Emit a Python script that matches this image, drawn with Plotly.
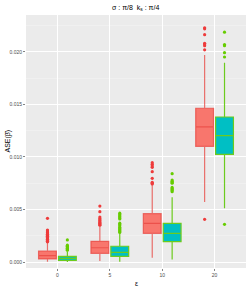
import plotly.graph_objects as go

categories = ["0", "5", "10", "20"]
groups = ["a", "b"]

# group a (red)
a_q1 = [0.00029, 0.00083, 0.00273, 0.01102]
a_med = [0.00060, 0.00136, 0.00368, 0.01286]
a_q3 = [0.00105, 0.00197, 0.00460, 0.01464]
a_lo = [0.00003, 0.00010, 0.00041, 0.00571]
a_hi = [0.00185, 0.00340, 0.00733, 0.01971]
a_out = [
    [0.00192, 0.00198, 0.00204, 0.00210, 0.00216, 0.00222, 0.00228, 0.00234, 0.00240,
     0.00246, 0.00252, 0.00258, 0.00264, 0.00270, 0.00278, 0.00286, 0.00296, 0.00305, 0.00416],
    [0.00350, 0.00358, 0.00366, 0.00374, 0.00382, 0.00392, 0.00402, 0.00414, 0.00428,
     0.00479, 0.00533],
    [0.00743, 0.00750, 0.00759, 0.00797, 0.00860, 0.00902, 0.00915, 0.00930, 0.00946],
    [0.00406, 0.02020, 0.02060, 0.02075, 0.02083, 0.02165, 0.02220, 0.02230],
]

# group b (teal)
b_q1 = [0.00016, 0.00054, 0.00194, 0.01025]
b_med = [0.00035, 0.00092, 0.00273, 0.01203]
b_q3 = [0.00054, 0.00150, 0.00368, 0.01381]
b_lo = [0.00000, 0.00002, 0.00025, 0.00511]
b_hi = [0.00100, 0.00270, 0.00616, 0.01898]
b_out = [
    [0.00112, 0.00118, 0.00124, 0.00130, 0.00136, 0.00142, 0.00150, 0.00160, 0.00210],
    [0.00282, 0.00290, 0.00300, 0.00310, 0.00320, 0.00332, 0.00345, 0.00358, 0.00370,
     0.00410, 0.00420, 0.00430, 0.00440, 0.00452, 0.00465],
    [0.00670, 0.00680, 0.00690, 0.00700, 0.00710, 0.00750, 0.00760, 0.00770, 0.00780, 0.00841],
    [0.00359, 0.01952, 0.01993, 0.02060, 0.02070, 0.02188],
]

tick_vals = [0.000, 0.005, 0.010, 0.015, 0.020]
tick_text = ["0.000", "0.005", "0.010", "0.015", "0.020"]

RED_FILL = "rgba(248,118,109,1)"
RED_LINE = "rgba(232,70,64,0.75)"
RED_PT = "#EE3B3B"
TEAL_FILL = "#00BFC4"
GREEN_LINE = "#6CCB1E"
GREEN_PT = "#66CC00"

offset = 0.19
bw = 0.34
pos = list(range(len(categories)))

W, H = 249, 291
ML, MR, MT, MB = 26, 3, 15, 23
plot_w = W - ML - MR
plot_h = H - MT - MB

fig = go.Figure()
specs = [
    (-offset, a_q1, a_med, a_q3, a_lo, a_hi, a_out, RED_FILL, RED_LINE, RED_PT),
    (offset, b_q1, b_med, b_q3, b_lo, b_hi, b_out, TEAL_FILL, GREEN_LINE, GREEN_PT),
]
for off, q1, med, q3, lo, hi, out, fill, line, pt in specs:
    xs = [p + off for p in pos]
    fig.add_trace(go.Box(
        x=xs, q1=q1, median=med, q3=q3, lowerfence=lo, upperfence=hi,
        width=bw, fillcolor=fill, line=dict(color=line, width=1.2),
        whiskerwidth=0, boxpoints=False, showlegend=False, hoverinfo="skip",
    ))
    ox, oy = [], []
    for p, vals in zip(pos, out):
        ox += [p + off] * len(vals)
        oy += vals
    fig.add_trace(go.Scatter(
        x=ox, y=oy, mode="markers",
        marker=dict(color=pt, size=3.2, line=dict(width=0)),
        showlegend=False, hoverinfo="skip",
    ))

fig.update_layout(
    width=W, height=H,
    margin=dict(l=ML, r=MR, t=MT, b=MB, autoexpand=False),
    paper_bgcolor="white", plot_bgcolor="#EBEBEB",
    font=dict(family="Liberation Sans, Arial, sans-serif", color="#4D4D4D", size=5),
    title=dict(text="σ : π/8  k<sub>s</sub> : π/4", x=0.545, xanchor="center",
               y=0.975, yanchor="middle", font=dict(size=7, color="black")),
    annotations=[
        dict(text="ε", x=0.5, y=(268 - 283) / plot_h, xref="paper", yref="paper",
             showarrow=False, font=dict(size=7, color="black"),
             xanchor="center", yanchor="middle"),
        dict(text="ASE(β̂)", x=(7 - ML) / plot_w, y=0.5, xref="paper", yref="paper",
             showarrow=False, font=dict(size=7, color="black"), textangle=-90,
             xanchor="center", yanchor="middle"),
    ],
)

fig.update_xaxes(
    range=[-0.6, 3.6], tickmode="array", tickvals=pos, ticktext=categories,
    showgrid=True, gridcolor="white", gridwidth=1, zeroline=False, automargin=False,
    ticks="outside", ticklen=2, tickcolor="#333333", tickwidth=0.6,
    tickfont=dict(size=5, color="#4D4D4D"),
)
fig.update_yaxes(
    range=[-0.00057, 0.02352], tickmode="array", tickvals=tick_vals, ticktext=tick_text,
    showgrid=True, gridcolor="white", gridwidth=1, zeroline=False, automargin=False,
    minor=dict(dtick=0.0025, tick0=0.0025, showgrid=True, gridcolor="#F5F5F5", gridwidth=0.5),
    ticks="outside", ticklen=2, tickcolor="#333333", tickwidth=0.6,
    tickfont=dict(size=5, color="#4D4D4D"),
)

fig.write_html(
    "out.html",
    config={"displayModeBar": False, "staticPlot": True},
    post_script="document.body.style.margin='0';document.body.style.overflow='hidden';",
)
